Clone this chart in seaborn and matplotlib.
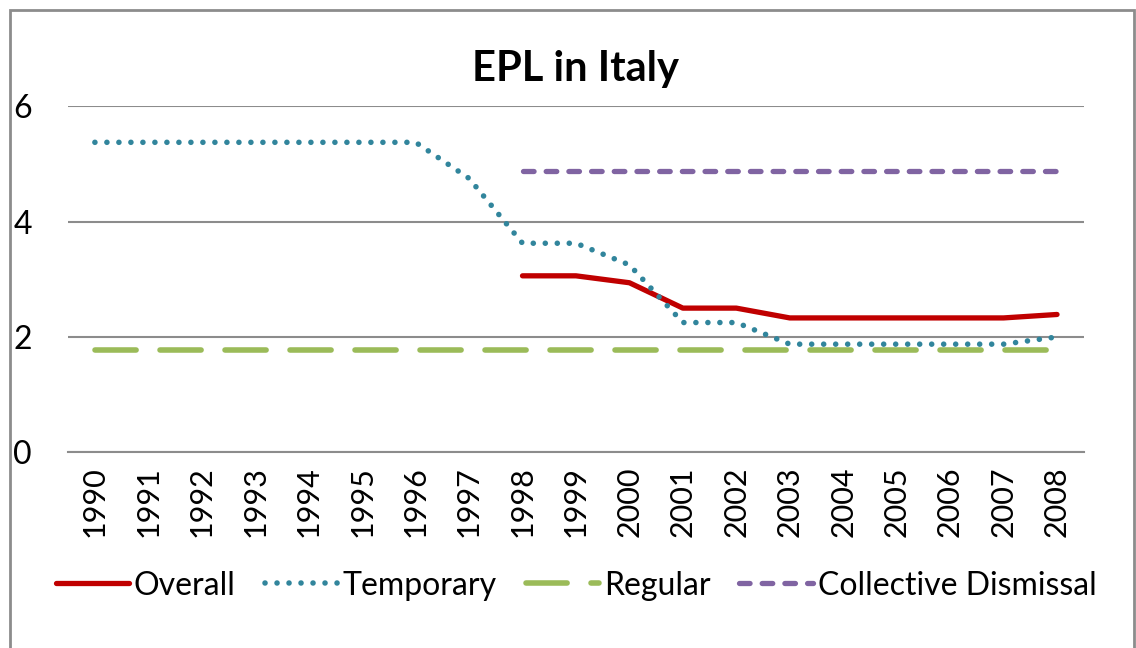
import numpy as np
import pandas as pd
import matplotlib
matplotlib.use("Agg")
import matplotlib.pyplot as plt
from matplotlib.patches import Rectangle
import seaborn as sns

years = [str(y) for y in range(1990, 2009)]
overall = [np.nan] * 8 + [3.06, 3.06, 2.94, 2.50, 2.50, 2.33, 2.33, 2.33, 2.33, 2.33, 2.39]
temporary = [5.375] * 7 + [4.75, 3.625, 3.625, 3.25, 2.25, 2.25, 1.875, 1.875, 1.875, 1.875, 1.875, 2.0]
regular = [1.77] * 19
collective = [np.nan] * 8 + [4.875] * 11

df = pd.DataFrame({"year": years, "Overall": overall, "Temporary": temporary,
                   "Regular": regular, "Collective Dismissal": collective})
df["x"] = range(len(years))

sns.set_style("white")
plt.rcParams['font.family'] = ['Lato', 'DejaVu Sans']
plt.rcParams['text.color'] = 'black'
plt.rcParams['xtick.color'] = 'black'
plt.rcParams['ytick.color'] = 'black'

fig = plt.figure(figsize=(11.36, 6.48), dpi=100)
ax = fig.add_axes([0.06, 0.302, 0.894, 0.534])

styles = {
    "Overall": dict(color="#C00000", lw=3.8, ls="-"),
    "Temporary": dict(color="#31859C", lw=4, ls=(0, (0.01, 2.15)), dash_capstyle="round"),
    "Regular": dict(color="#9BBB59", lw=4, ls=(0, (7.4, 4.3)), dash_capstyle="round"),
    "Collective Dismissal": dict(color="#8064A2", lw=3.8, ls=(0, (2, 2.3)), dash_capstyle="round"),
}

for name, st in styles.items():
    sns.lineplot(data=df, x="x", y=name, ax=ax, label=name, **st)

ax.set_xlim(-0.5, len(years) - 0.5)
ax.set_ylim(0, 6)
ax.set_yticks([0, 2, 4, 6])
ax.set_xticks(df["x"])
ax.set_xticklabels(years, rotation=90, fontsize=22)
ax.tick_params(axis="y", labelsize=23, pad=26, length=0)
ax.tick_params(axis="x", length=0, pad=10)
ax.grid(axis="y", color="#8C8C8C", lw=1.5)
ax.set_axisbelow(True)
for s in ["top", "right", "left"]:
    ax.spines[s].set_visible(False)
ax.spines["bottom"].set_color("#8C8C8C")
ax.spines["bottom"].set_linewidth(1.5)
ax.set_xlabel("")
ax.set_ylabel("")
ax.set_title("EPL in Italy", fontsize=30, fontweight="bold", pad=18)

ax.legend(loc="center", bbox_to_anchor=(0.5, -0.385), ncol=4, frameon=False,
          fontsize=23, handlelength=2.3, handletextpad=0.15, columnspacing=0.9)

fig.patches.append(Rectangle((10 / 1136, -0.05), 1124 / 1136, 1.05 - 10 / 648,
                             transform=fig.transFigure, fill=False,
                             edgecolor="#8C8C8C", lw=2))

fig.savefig("out.png", dpi=100)
